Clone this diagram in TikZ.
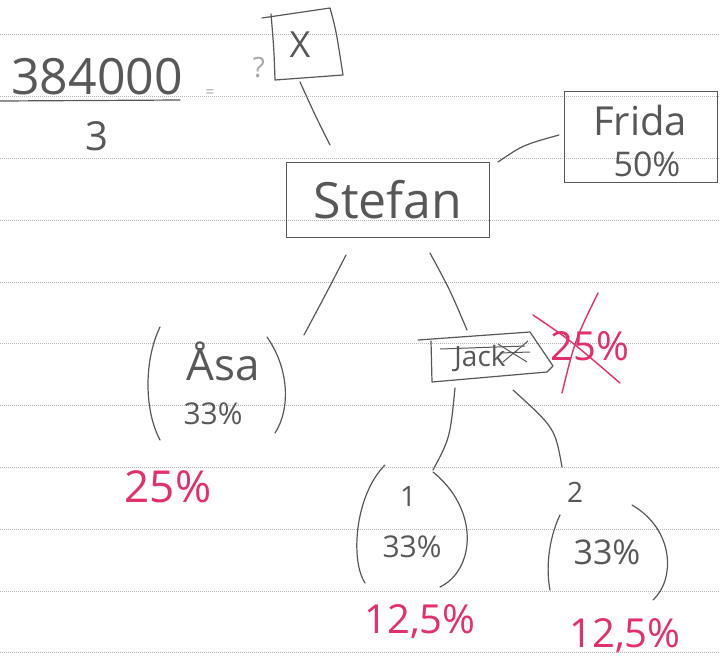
\documentclass[tikz,border=0pt]{standalone}
\usepackage{fontspec}
\setmainfont{Open Sans}
\usetikzlibrary{calc}
\definecolor{pen}{HTML}{585858}
\definecolor{faint}{HTML}{A8A8A8}
\definecolor{redpen}{HTML}{E3306A}
\definecolor{ruling}{HTML}{B4B4B4}
\tikzset{
  ink/.style={draw=pen, line width=1.2pt, line cap=round, line join=round},
  redink/.style={draw=redpen, line width=1.4pt, line cap=round},
  hand/.style={text=pen, inner sep=0pt, font=\fontsize{#1}{#1}\selectfont},
  redhand/.style={text=redpen, inner sep=0pt, font=\fontsize{#1}{#1}\selectfont},
  ruleline/.style={draw=ruling, line width=0.8pt, dash pattern=on 1pt off 1pt}
}
\begin{document}
\begin{tikzpicture}[x=1pt,y=-1pt]
\useasboundingbox[fill=white] (0,0) rectangle (720,670);
% paper rules
\foreach \yy in {34,96,158,220,282,343,405,467,529,591,652}
  \draw[ruleline] (0,\yy) -- (720,\yy);

% fraction
\node[hand=50] (num) at (97,77) {384000};
\draw[ink] (0,101) -- (180,100);
\node[hand=40] (den) at (97,136) {3};
\node[text=faint, inner sep=0pt, font=\fontsize{16}{16}\selectfont] (eq) at (210,94) {=};
\node[text=faint, inner sep=0pt, font=\fontsize{28}{28}\selectfont] (qm) at (259,68) {?};

% X box
\node[hand=36] (xbox) at (300,45) {X};
\draw[ink] (262,18) -- (330,8) .. controls (336,30) .. (343,75) -- (275,80) .. controls (274,50) .. (271,14);

% Stefan
\node[hand=50, draw=pen, line width=1.2pt, minimum width=203pt, minimum height=75pt] (stefan) at (388,200) {Stefan};

% Frida
\node[draw=pen, line width=1.2pt, minimum width=153pt, minimum height=91pt, inner sep=0pt] (frida) at (641,137) {};
\node[hand=40] (fridaname) at (640,120) {Frida};
\node[hand=34] (fridapct) at (647,164) {50\%};

% Asa
\coordinate (asa) at (218,385);
\node[hand=44] (asaname) at (223,361) {Åsa};
\node[hand=30] (asapct) at (213,414) {33\%};
\draw[ink] (160,327) .. controls (144,360) and (144,410) .. (160,440);
\draw[ink] (267,337) .. controls (290,370) and (290,410) .. (275,433);
\node[redhand=44] (asared) at (168,487) {25\%};

% Jack
\node[hand=28] (jack) at (480,358) {Jack};
\draw[ink] (418,340) -- (530,332) -- (553,366) -- (547,372) -- (432,382) -- (431,341);
\draw[draw=pen, line width=1pt] (440,349) -- (525,346);
\draw[draw=pen, line width=1pt] (498,344) -- (527,362) (503,362) -- (528,341) (500,353) -- (530,352);
\node[redhand=40] (jackred) at (590,346) {25\%};
\draw[redink] (533,315) .. controls (570,340) .. (620,383);
\draw[redink] (598,293) .. controls (575,340) .. (562,393);

% child 1
\coordinate (c1) at (410,525);
\node[hand=28] (c1num) at (408,496) {1};
\node[hand=30] (c1pct) at (412,547) {33\%};
\draw[ink] (385,465) .. controls (355,495) and (350,560) .. (365,583);
\draw[ink] (433,472) .. controls (480,510) and (475,570) .. (440,587);
\node[redhand=40] (c1red) at (420,622) {12,5\%};

% child 2
\coordinate (c2) at (605,545);
\node[hand=28] (c2num) at (575,492) {2};
\node[hand=34] (c2pct) at (607,552) {33\%};
\draw[ink] (560,515) .. controls (548,540) and (546,570) .. (550,590);
\draw[ink] (632,505) .. controls (675,530) and (675,580) .. (653,600);
\node[redhand=40] (c2red) at (625,636) {12,5\%};

% connectors
\draw[ink] ($(xbox)+(0,37)$) .. controls ($(xbox)+(15,70)$) .. ($(stefan)+(-58,-55)$);
\draw[ink] ($(stefan)+(110,-38)$) .. controls ($(stefan)+(135,-55)$) .. ($(frida)+(-82,-2)$);
\draw[ink] ($(stefan)+(-42,55)$) .. controls ($(stefan)+(-60,90)$) .. ($(asa)+(86,-50)$);
\draw[ink] ($(stefan)+(42,53)$) .. controls ($(stefan)+(62,90)$) .. ($(jack)+(-13,-28)$);
\draw[ink] ($(jack)+(-25,30)$) .. controls ($(jack)+(-30,80)$) .. ($(c1)+(23,-55)$);
\draw[ink] ($(jack)+(33,32)$) .. controls ($(jack)+(75,70)$) .. ($(c2)+(-43,-78)$);
\end{tikzpicture}
\end{document}
